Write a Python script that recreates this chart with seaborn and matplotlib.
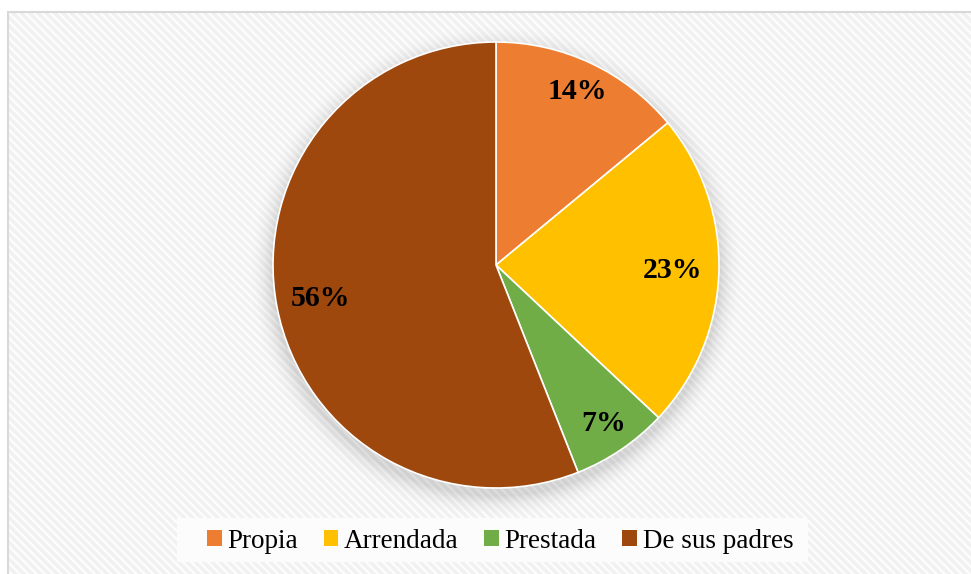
import matplotlib
matplotlib.use("Agg")
import matplotlib.pyplot as plt
import seaborn as sns
from matplotlib.patches import Rectangle
import numpy as np

categories = ["Propia", "Arrendada", "Prestada", "De sus padres"]
values = [14, 23, 7, 56]
colors = ["#ED7D31", "#FFC000", "#70AD47", "#9E480E"]
label_dist = [0.86, 0.79, 0.86, 0.80]

sns.set_theme(style="white")
plt.rcParams["font.family"] = ["Liberation Serif", "DejaVu Serif"]
plt.rcParams["hatch.linewidth"] = 2.5

W, H = 971, 574
fig = plt.figure(figsize=(W / 100, H / 100), dpi=100)
fig.patch.set_facecolor("white")

# chart area with diagonal stripe pattern and frame
bg = Rectangle((8 / W, -0.05), 1.1, 1.05 - 12 / H, transform=fig.transFigure,
               facecolor="#fdfdfd", edgecolor="#f1f1f1", linewidth=0, hatch="\\\\\\\\", zorder=0)
fig.patches.append(bg)
fr = Rectangle((8 / W, -0.05), 1.1, 1.05 - 12 / H, transform=fig.transFigure,
               facecolor="none", edgecolor="#d9d9d9", linewidth=1.5, zorder=1)
fig.patches.append(fr)

cx, cy, r = 496, 265, 223
ax = fig.add_axes([(cx - r) / W, (H - cy - r) / H, 2 * r / W, 2 * r / H])
ax.set_zorder(3)
ax.patch.set_visible(False)
ax.axis("off")

# soft shadow, offset downward
for i, a in enumerate(np.linspace(0.05, 0.006, 10)):
    sh = plt.Circle((0, -0.03), 1 + 0.01 * (i + 1), color="black", alpha=a * 0.45, lw=0,
                    zorder=0, clip_on=False)
    ax.add_patch(sh)

wedges, texts, autotexts = ax.pie(values, colors=colors, startangle=90, counterclock=False,
                                  radius=1, autopct="%1.0f%%", pctdistance=0.8,
                                  wedgeprops=dict(edgecolor="white", linewidth=1.2),
                                  textprops=dict(fontsize=21.5, fontweight="bold", color="black"))
for w, t, d in zip(wedges, autotexts, label_dist):
    ang = np.deg2rad((w.theta1 + w.theta2) / 2)
    t.set_position((d * np.cos(ang), d * np.sin(ang)))
    t.set_zorder(5)
ax.set_aspect("auto")
ax.set_xlim(-1, 1)
ax.set_ylim(-1, 1)

# legend box
lb = Rectangle((177 / W, (H - 562) / H), 631 / W, 44 / H, transform=fig.transFigure,
               facecolor="#fcfcfc", edgecolor="none", zorder=4)
fig.patches.append(lb)

handles = [Rectangle((0, 0), 1, 1, facecolor=c, edgecolor="none") for c in colors]
leg = fig.legend(handles, categories, loc="center", bbox_to_anchor=(500 / W, (H - 541) / H),
                 ncol=4, frameon=False, fontsize=19.5, handlelength=0.55, handleheight=0.55,
                 handletextpad=0.2, columnspacing=0.95, borderpad=0)
leg.set_zorder(6)
for t in leg.get_texts():
    t.set_color("black")

fig.savefig("out.png", dpi=100)
